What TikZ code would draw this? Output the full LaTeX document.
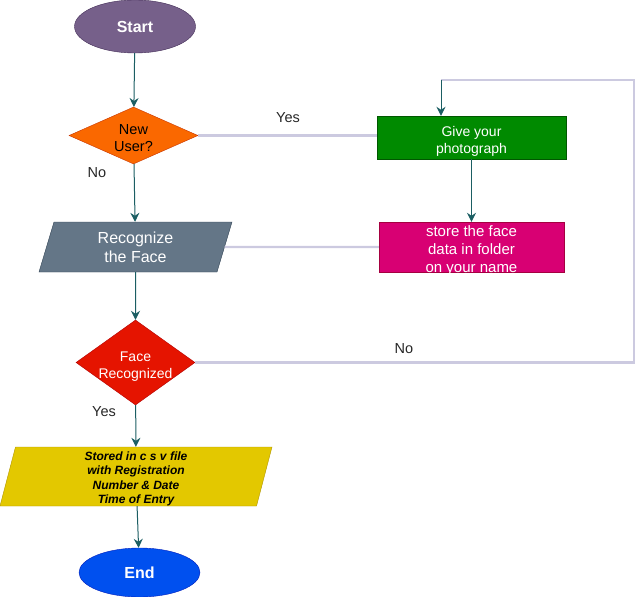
\documentclass[tikz,border=0pt]{standalone}
\usepackage{fontspec}
\setmainfont{Liberation Sans}
\usetikzlibrary{shapes.geometric,arrows.meta}

\definecolor{startc}{HTML}{76608A}
\definecolor{startd}{HTML}{432D57}
\definecolor{userc}{HTML}{FA6800}
\definecolor{userd}{HTML}{C73500}
\definecolor{photoc}{HTML}{008A00}
\definecolor{photod}{HTML}{005700}
\definecolor{storec}{HTML}{D80073}
\definecolor{stored}{HTML}{A50040}
\definecolor{facec}{HTML}{647687}
\definecolor{faced}{HTML}{314354}
\definecolor{recogc}{HTML}{E51400}
\definecolor{recogd}{HTML}{B20000}
\definecolor{csvc}{HTML}{E3C800}
\definecolor{csvd}{HTML}{B09500}
\definecolor{stopc}{HTML}{0050EF}
\definecolor{stopd}{HTML}{001DBC}
\definecolor{flowc}{HTML}{1B5E63}
\definecolor{linkc}{HTML}{CCCAE0}

\tikzset{
    term/.style={ellipse, inner sep=0pt, minimum width=121pt, minimum height=53pt,
        text=white, font=\fontsize{16}{19}\selectfont\bfseries},
    decision/.style={diamond, inner sep=0pt, align=center, text=white, text depth=0pt,
        font=\fontsize{14}{16.5}\selectfont},
    process/.style={rectangle, inner sep=0pt, align=center, text=white, text depth=0pt,
        font=\fontsize{14}{17}\selectfont},
    data/.style={trapezium, trapezium stretches body, inner sep=0pt, align=center,
        text=white},
    flow/.style={draw=flowc, line width=1pt, -{Stealth[length=9pt,width=9pt,inset=3pt]}},
    link/.style={draw=linkc, line width=2.2pt},
    tag/.style={text=black!85, font=\fontsize{14.5}{17}\selectfont},
}

\begin{document}
\begin{tikzpicture}[x=1pt, y=-1pt]
    \useasboundingbox (0,0) rectangle (635,597);

    \node[term, fill=startc, draw=startd] (start) at (135,26.5) {Start};
    \node[decision, fill=userc, draw=userd, text=black, shape aspect=2.26, text height=32pt,
        minimum width=129pt, minimum height=57pt,
        font=\fontsize{14.5}{17}\selectfont] (user) at (133.5,135.5) {New\\User?};
    \node[process, fill=photoc, draw=photod, text height=31pt, minimum width=189pt,
        minimum height=43pt] (photo) at (471.5,137.5) {Give your\\photograph};
    \node[process, fill=storec, draw=stored, text height=50pt, minimum width=185pt,
        minimum height=50pt, font=\fontsize{15}{18}\selectfont] (store) at (471.5,247)
        {store the face\\data in folder\\on your name};
    \node[data, fill=facec, draw=faced, minimum width=193pt, minimum height=50pt,
        trapezium left angle=64, trapezium right angle=116,
        font=\fontsize{16}{19}\selectfont] (face) at (135.5,247) {Recognize\\the Face};
    \node[decision, fill=recogc, draw=recogd, shape aspect=1.4, text height=31.5pt,
        minimum width=119pt, minimum height=85pt] (recog) at (135.5,362.5) {Face\\Recognized};
    \node[data, fill=csvc, draw=csvd, text=black, text height=54pt, text depth=0pt,
        minimum width=272pt, minimum height=59pt,
        trapezium left angle=74, trapezium right angle=106,
        font=\fontsize{12}{14.5}\selectfont\bfseries\itshape] (csv) at (136,476.5)
        {Stored in c s v file\\with Registration\\Number \& Date\\Time of Entry};
    \node[term, fill=stopc, draw=stopd, minimum height=49pt] (stop) at (139.5,572.5) {End};

    \node[tag] (yesa) at (288,118) {Yes};
    \node[tag] (noa) at (97,173) {No};
    \node[tag] (nob) at (404,349) {No};
    \node[tag] (yesb) at (104,412) {Yes};

    \coordinate (loopa) at (634,362.5);
    \coordinate (loopb) at (634,80);
    \coordinate (loopc) at (441,80);

    \draw[flow] (start) -- (user);
    \draw[flow] (user) -- (face);
    \draw[flow] (face) -- (recog);
    \draw[flow] (recog) -- (csv);
    \draw[flow] (csv) -- (stop);
    \draw[flow] (photo) -- (store);

    \draw[link] (user.east) -- (user.east -| photo.west);
    \draw[link] (store.west) -- (face.east);
    \draw[link] (recog.east) -- (loopa) -- (loopb) -- (loopc);
    \draw[flow] (loopc) -- (loopc |- photo.north);
\end{tikzpicture}
\end{document}
